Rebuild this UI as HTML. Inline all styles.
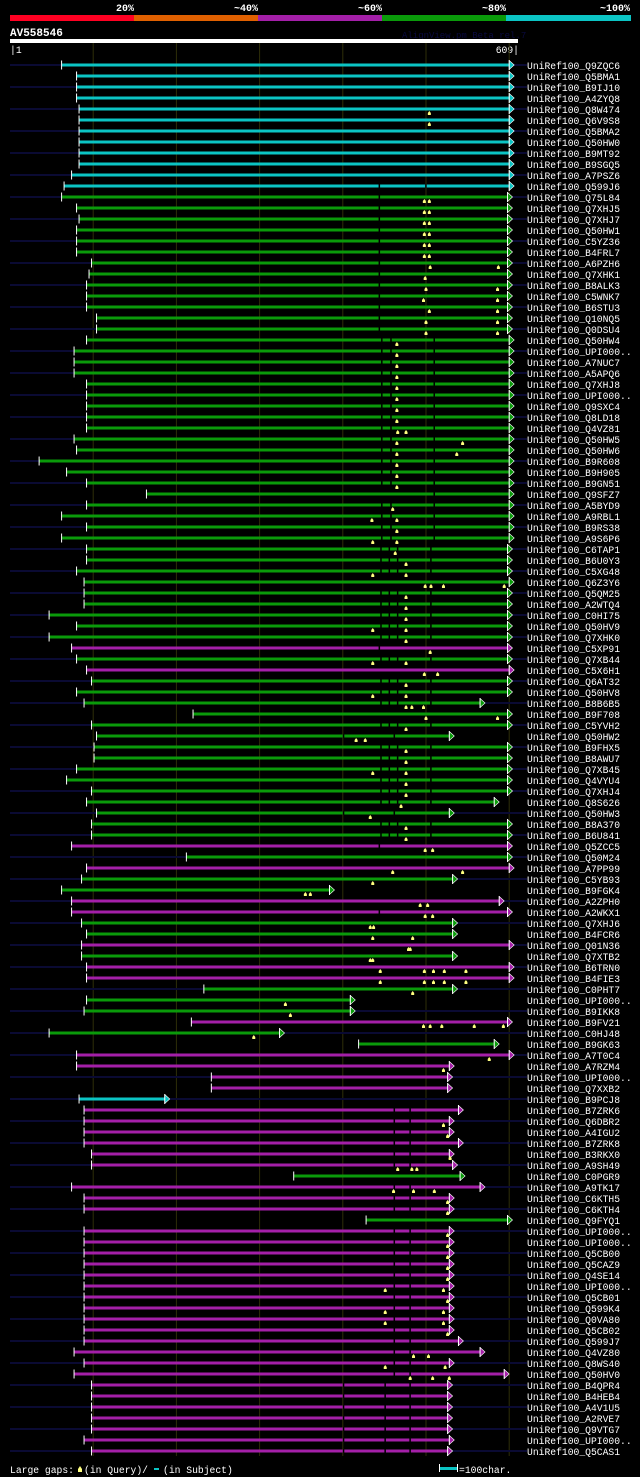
<!DOCTYPE html>
<html><head><meta charset="utf-8">
<style>
html,body{margin:0;padding:0;background:#000;}
body{width:640px;height:1477px;overflow:hidden;}
svg{display:block;font-family:"Liberation Mono",monospace;}
</style></head>
<body>
<svg id="chart" width="640" height="1477" viewBox="0 0 640 1477" xmlns="http://www.w3.org/2000/svg">
  <g>
    <rect x="10" y="15" width="124" height="6" fill="#ff0022"/>
    <rect x="134" y="15" width="124" height="6" fill="#e06000"/>
    <rect x="258" y="15" width="124" height="6" fill="#a41fa8"/>
    <rect x="382" y="15" width="124" height="6" fill="#0a9a0a"/>
    <rect x="506" y="15" width="125" height="6" fill="#0bc4c4"/>
    <g font-size="10" font-weight="bold" fill="#fff" text-anchor="end">
      <text x="134" y="11">20%</text>
      <text x="258" y="11">~40%</text>
      <text x="382" y="11">~60%</text>
      <text x="506" y="11">~80%</text>
      <text x="630" y="11">~100%</text>
    </g>
  </g>
  <text x="10" y="36" font-size="11" font-weight="bold" fill="#fff">AV558546</text>
  <text x="402" y="38" font-size="9" fill="#0a0a40">AlignView.pm Beta rel.7</text>
  <rect x="10" y="39" width="508" height="4" fill="#fff"/>
  <text x="10" y="53" font-size="9.7" fill="#fff">|1</text>
  <text x="519" y="53" font-size="9.7" fill="#fff" text-anchor="end">609|</text>
  <g id="grid"></g>
  <g id="rows"></g>
  <g font-size="9.7" fill="#fff">
    <text x="10" y="1473">Large gaps:</text>
    <polygon points="80,1466 82,1469 82,1472 78,1472 78,1469" fill="#ffff80"/>
    <text x="84" y="1473">(in Query)/</text>
    <rect x="154" y="1468" width="5" height="2" fill="#0bc4c4"/>
    <text x="163" y="1473">(in Subject)</text>
    <rect x="439" y="1467" width="18" height="3" fill="#0bc4c4"/>
    <rect x="439" y="1464" width="1" height="8" fill="#fff"/>
    <rect x="457" y="1464" width="1" height="8" fill="#fff"/>
    <text x="459" y="1473">=100char.</text>
  </g>
</svg>
<script>
const names=["Q9ZQC6","Q5BMA1","B9IJ10","A4ZYQ8","Q8W474","Q6V9S8","Q5BMA2","Q50HW0","B9MT92","B9SGQ5","A7PSZ6","Q599J6","Q75L84","Q7XHJ5","Q7XHJ7","Q50HW1","C5YZ36","B4FRL7","A6PZH6","Q7XHK1","B8ALK3","C5WNK7","B6STU3","Q10NQ5","Q0DSU4","Q50HW4","UPI000..","A7NUC7","A5APQ6","Q7XHJ8","UPI000..","Q9SXC4","Q8LD18","Q4VZ81","Q50HW5","Q50HW6","B9R608","B9H905","B9GN51","Q9SFZ7","A5BYD9","A9RBL1","B9RS38","A9S6P6","C6TAP1","B6U0Y3","C5XG48","Q6Z3Y6","Q5QM25","A2WTQ4","C0HI75","Q50HV9","Q7XHK0","C5XP91","Q7XB44","C5X6H1","Q6AT32","Q50HV8","B8B6B5","B9F708","C5YVH2","Q50HW2","B9FHX5","B8AWU7","Q7XB45","Q4VYU4","Q7XHJ4","Q8S626","Q50HW3","B8A370","B6U841","Q5ZCC5","Q50M24","A7PP99","C5YB93","B9FGK4","A2ZPH0","A2WKX1","Q7XHJ6","B4FCR6","Q01N36","Q7XTB2","B6TRN0","B4FIE3","C0PHT7","UPI000..","B9IKK8","B9FV21","C0HJ48","B9GK63","A7T0C4","A7RZM4","UPI000..","Q7XXB2","B9PCJ8","B7ZRK6","Q6DBR2","A4IGU2","B7ZRK8","B3RKX0","A9SH49","C0PGR9","A9TK17","C6KTH5","C6KTH4","Q9FYQ1","UPI000..","UPI000..","Q5CB00","Q5CAZ9","Q4SE14","UPI000..","Q5CB01","Q599K4","Q0VA80","Q5CB02","Q599J7","Q4VZ80","Q8WS40","Q50HV0","B4QPR4","B4HEB4","A4V1U5","A2RVE7","Q9VTG7","UPI000..","Q5CAS1"];
const identity="cccccccccccc"+"ggggggggggggggggggggggggggggggggggggggggg"+"pgp"+"ggggggggggggggg"+"pgp"+"gg"+"pp"+"gg"+"p"+"g"+"pp"+"ggg"+"p"+"gg"+"pppp"+"c"+"pppppp"+"g"+"ppp"+"g"+"ppppppppppppppppppppp";
</script>
<script>
// start / end residues per hit
const starts=[62,80,80,80,83,83,83,83,83,83,74,65,62,80,83,80,80,80,98,95,92,92,92,104,104,92,77,77,77,92,92,92,92,92,77,80,35,68,92,164,92,62,92,62,92,92,80,89,89,89,47,80,47,74,80,92,98,80,89,220,98,104,101,101,80,68,98,92,104,98,98,74,212,92,86,62,74,74,86,92,86,86,92,92,233,92,89,218,47,419,80,80,242,242,83,89,89,89,89,98,98,341,74,89,89,428,89,89,89,89,89,89,89,89,89,89,89,77,89,77,98,98,98,98,98,89,98];
const ends=[600,600,600,600,600,600,600,600,600,600,600,600,598,598,598,598,598,598,598,598,598,598,598,598,598,600,600,600,600,600,600,600,600,600,600,600,600,600,600,600,600,600,600,600,598,598,598,600,598,598,598,598,598,598,598,600,598,598,565,598,598,528,598,598,598,598,598,582,528,598,598,598,598,600,532,384,588,598,532,532,600,532,600,600,532,409,409,598,324,582,600,528,526,526,186,539,528,528,539,528,532,541,565,528,528,598,528,528,528,528,528,528,528,528,528,528,539,565,528,594,526,526,526,526,526,528,526];
const qgaps=[[],[],[],[],[504],[504],[],[],[],[],[],[],[498,504],[498,504],[498,504],[498,504],[498,504],[498,504],[505,587],[499],[500,586],[497,586],[504,586],[500,586],[500,586],[465],[465],[465],[465],[465],[465],[465],[465],[466,476],[465,544],[465,537],[465],[465],[465],[],[460],[435,465],[465],[436,465],[463],[476],[436,476],[499,506,521,594],[476],[476],[476],[436,476],[476],[505],[436,476],[498,514],[476],[436,476],[476,483,497],[500,586],[476],[416,427],[476],[476],[436,476],[476],[476],[470],[433],[476],[476],[499,508],[],[460,544],[436],[355,361],[493,502],[499,508],[433,437],[436,484],[479,481],[433,436],[445,498,509,522,548],[445,498,509,522,548],[484],[331],[337],[497,505,519,558,593],[293],[],[576],[521],[],[],[],[],[521],[526],[],[529],[466,483,489],[],[461,485,510],[526],[526],[],[526],[526],[526],[526],[526],[451,521],[526],[451,521],[451,521],[526],[],[485,503],[451,523],[481,508,528],[],[],[],[],[],[],[]];
const tickResidues=[100,200,300,400,500,600];
</script>
<script>
const NS="http://www.w3.org/2000/svg";
const X0=10, PX=0.832, ROW0=65, ROWH=11;
function xs(r){return X0+r*PX;}
function ys(i){return ROW0+i*ROWH;}
const colorOf={c:"#0bc4c4",g:"#0a9a0a",p:"#a41fa8"};
function mk(tag,attrs,parent){const e=document.createElementNS(NS,tag);for(const k in attrs)e.setAttribute(k,attrs[k]);parent.appendChild(e);return e;}
function breaksFor(i){
  if(i===11) return [443,499];
  if(i>=12&&i<=24) return [443];
  if(i===53||i===71||i===77) return [443];
  if(i>=25&&i<=43&&i!==39) return [446,457,509];
  if(i===39) return [509];
  if(i>=44&&i<=70&&i!==47&&i!==53&&i!==55&&i!==59&&i!==61&&i!==68) return [445,455,465,505];
  if(i===61||i===68) return [400,461];
  if(i>=95&&i<=119&&identity[i]==="p") return [461,480];
  if(i>=120) return [400,450,480];
  return [];
}
const grid=document.getElementById("grid");
tickResidues.forEach((t)=>{
  const l=mk("line",{x1:xs(t),x2:xs(t),y1:43,y2:1456,stroke:"#2e2e08","stroke-width":1},grid);
  
  
});
const rows=document.getElementById("rows");
names.forEach((n,i)=>{
  const y=ys(i), col=colorOf[identity[i]];
  const g=mk("g",{},rows);
  
  
  if(i%2===0){
    const s=mk("rect",{x:10,y:y-1,width:517,height:2,fill:"#0a0a33"},g);
    
    
  }
  const x1=xs(starts[i]), x2=xs(ends[i]);
  const bar=mk("rect",{x:x1,y:y-1.5,width:x2-x1,height:3,fill:col},g);
  
  
  breaksFor(i).forEach(b=>{
    if(b>starts[i]&&b<ends[i]){
      const br=mk("rect",{x:xs(b),y:y-1.5,width:1.5,height:3,fill:"#000"},g);
      
      
    }
  });
  const st=mk("rect",{x:x1-0.5,y:y-4.5,width:1,height:9,fill:"#fff"},g);
  
  
  const ar=mk("polygon",{points:`${x2},${y-4.5} ${x2+5},${y} ${x2},${y+4.5}`,fill:col,stroke:"#fff","stroke-width":0.6},g);
  
  
  const et=mk("rect",{x:x2-0.5,y:y-5,width:1,height:10,fill:"#fff"},g);
  
  
  qgaps[i].forEach(q=>{
    const qx=xs(q);
    const m=mk("polygon",{points:`${qx},${y+2} ${qx+1.5},${y+4} ${qx+1.5},${y+6} ${qx-1.5},${y+6} ${qx-1.5},${y+4}`,fill:"#ffff80"},g);
    
    
  });
  const t=mk("text",{x:527,y:y+4,"font-size":"9.7",fill:"#fff"},g);
  t.textContent="UniRef100_"+n;
  
  
});
</script>
</body></html>
